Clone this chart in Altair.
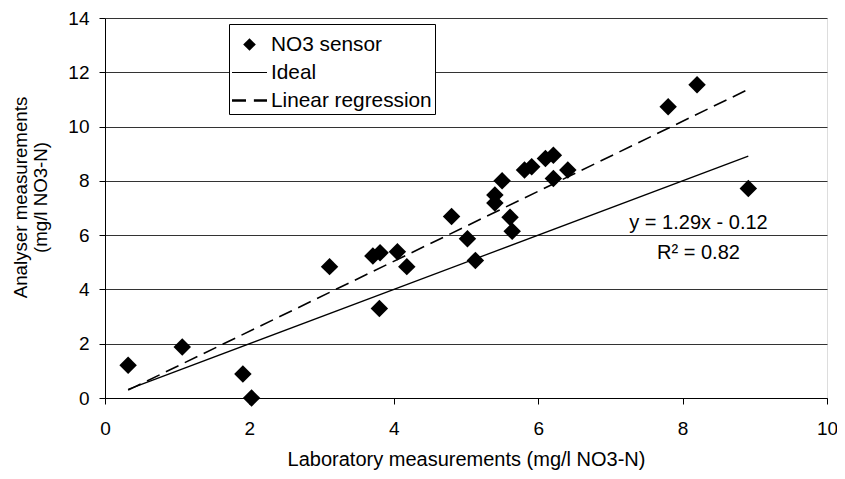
import altair as alt
import pandas as pd

# ---- data ----
lab_x = [0.32, 1.07, 1.91, 2.03, 3.11, 3.71, 3.81, 3.80, 4.05, 4.18, 4.80, 5.02, 5.13,
         5.40, 5.40, 5.50, 5.61, 5.64, 5.81, 5.91, 6.10, 6.21, 6.21, 6.41, 7.80, 8.20, 8.91]
ana_y = [1.21, 1.88, 0.88, 0.00, 4.84, 5.23, 5.35, 3.30, 5.39, 4.84, 6.69, 5.87, 5.07,
         7.48, 7.18, 8.00, 6.66, 6.14, 8.40, 8.52, 8.82, 8.94, 8.09, 8.40, 10.73, 11.54, 7.72]
line_x = [0.32, 8.91]
ideal_y = [0.32, 8.91]
regression_y = [0.29, 11.37]
series = ["NO3 sensor", "Ideal", "Linear regression"]
equation = ["y = 1.29x - 0.12", "R² = 0.82"]
eq_x = [8.22, 8.22]
eq_y = [6.44, 5.35]
x_ticks = [0, 2, 4, 6, 8, 10]
y_ticks = [0, 2, 4, 6, 8, 10, 12, 14]

FONT = "Liberation Sans"
FS = 20
TICK_FS = 19

# symbol paths (legend + points share the shape scale)
diamond = "M0,-0.36L0.36,0L0,0.36L-0.36,0Z"
solid = "M-1,-0.03H1V0.03H-1Z"
dashed = "M-1,-0.07H-0.2V0.07H-1Z M0.25,-0.07H1V0.07H0.25Z"

pts = pd.DataFrame({"x": lab_x, "y": ana_y, "series": series[0]})
ideal = pd.DataFrame({"x": line_x, "y": ideal_y})
reg = pd.DataFrame({"x": line_x, "y": regression_y})
ann = pd.DataFrame({"x": eq_x, "y": eq_y, "t": equation})

xs = alt.Scale(domain=[0, 10], nice=False, zero=False)
ys = alt.Scale(domain=[0, 14], nice=False, zero=False)

xax = alt.Axis(values=x_ticks, grid=False, format="d", labelFlush=False,
               title="Laboratory measurements (mg/l NO3-N)",
               labelFont=FONT, labelFontSize=TICK_FS, labelColor="black", labelPadding=15,
               titleFont=FONT, titleFontSize=FS, titleFontWeight="normal", titleColor="black",
               titlePadding=11, tickSize=6, tickColor="black", domainColor="black")
yax = alt.Axis(values=y_ticks, grid=True, gridColor="#333333", gridWidth=1, format="d",
               labelFlush=False,
               title=["Analyser measurements", "(mg/l NO3-N)"],
               labelFont=FONT, labelFontSize=TICK_FS, labelColor="black", labelPadding=10,
               titleFont=FONT, titleFontSize=18.7, titleFontWeight="normal", titleColor="black",
               titlePadding=17, titleY=179, tickSize=6, tickColor="black", domainColor="black")

points = alt.Chart(pts).mark_point(filled=True, color="black", size=2360, strokeWidth=0, opacity=1).encode(
    x=alt.X("x:Q", scale=xs, axis=xax),
    y=alt.Y("y:Q", scale=ys, axis=yax),
    shape=alt.Shape("series:N", scale=alt.Scale(domain=series, range=[diamond, solid, dashed]),
                    legend=alt.Legend(title=None, orient="none", legendX=124, legendY=6,
                                      fillColor="white", strokeColor="black", padding=3,
                                      symbolSize=1225, symbolFillColor="black",
                                      symbolStrokeColor="black", symbolStrokeWidth=0,
                                      labelFont=FONT, labelFontSize=20.8, labelColor="black",
                                      labelLimit=400, labelOffset=4, rowPadding=-1.5)),
)

ideal_line = alt.Chart(ideal).mark_line(color="black", strokeWidth=1.3).encode(
    x=alt.X("x:Q", scale=xs), y=alt.Y("y:Q", scale=ys))
reg_line = alt.Chart(reg).mark_line(color="black", strokeWidth=1.6, strokeDash=[14, 7]).encode(
    x=alt.X("x:Q", scale=xs), y=alt.Y("y:Q", scale=ys))

text = alt.Chart(ann).mark_text(font=FONT, fontSize=FS, color="black", align="center",
                                baseline="middle").encode(
    x=alt.X("x:Q", scale=xs), y=alt.Y("y:Q", scale=ys), text="t:N")

chart = alt.layer(ideal_line, reg_line, points, text).properties(
    width=722, height=380,
    autosize=alt.AutoSizeParams(type="none"),
    padding={"left": 97, "top": 10, "right": 10, "bottom": 72},
).configure_view(stroke="#808080", strokeWidth=1).configure(background="white")

chart.save("out.html", embed_options={"renderer": "svg", "actions": False})
